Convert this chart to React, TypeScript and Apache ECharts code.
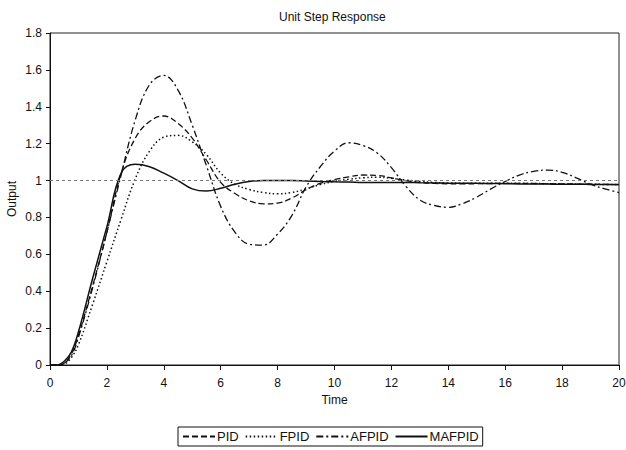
import React, { useEffect, useRef } from "react";
import * as echarts from "echarts";

const time = [0, 0.25, 0.5, 0.75, 1, 1.5, 2, 2.5, 3, 3.5, 4, 4.5, 5, 5.5, 6, 6.5, 7, 7.5, 8, 8.5, 9, 9.5, 10, 10.5, 11, 11.5, 12, 12.5, 13, 13.5, 14, 14.5, 15, 15.5, 16, 16.5, 17, 17.5, 18, 18.5, 19, 19.5, 20];

const pid = [0, 0, 0.01, 0.06, 0.16, 0.43, 0.72, 1.04, 1.23, 1.32, 1.35, 1.31, 1.23, 1.11, 0.99, 0.93, 0.89, 0.874, 0.878, 0.905, 0.95, 0.985, 1.005, 1.02, 1.03, 1.028, 1.015, 1.0, 0.99, 0.985, 0.982, 0.982, 0.983, 0.984, 0.985, 0.985, 0.984, 0.983, 0.982, 0.981, 0.98, 0.979, 0.978];

const fpid = [0, 0, 0.005, 0.04, 0.11, 0.33, 0.56, 0.79, 1.01, 1.16, 1.235, 1.245, 1.21, 1.14, 1.04, 0.98, 0.952, 0.935, 0.928, 0.935, 0.955, 0.978, 0.995, 1.007, 1.015, 1.018, 1.012, 1.003, 0.995, 0.99, 0.987, 0.986, 0.986, 0.986, 0.986, 0.985, 0.984, 0.983, 0.982, 0.981, 0.98, 0.979, 0.978];

const afpid = [0, 0, 0.01, 0.05, 0.15, 0.42, 0.72, 1.03, 1.33, 1.52, 1.57, 1.49, 1.3, 1.08, 0.86, 0.72, 0.655, 0.65, 0.71, 0.81, 0.965, 1.075, 1.16, 1.205, 1.19, 1.15, 1.07, 0.97, 0.895, 0.865, 0.855, 0.875, 0.91, 0.955, 0.995, 1.03, 1.05, 1.057, 1.045, 1.015, 0.98, 0.955, 0.935];

const mafpid = [0, 0, 0.02, 0.07, 0.18, 0.47, 0.75, 1.04, 1.088, 1.075, 1.04, 1.0, 0.955, 0.943, 0.958, 0.98, 0.995, 1.0, 1.0, 1.0, 0.998, 0.995, 0.993, 0.992, 0.99, 0.99, 0.99, 0.99, 0.988, 0.987, 0.986, 0.985, 0.985, 0.984, 0.983, 0.982, 0.982, 0.981, 0.98, 0.98, 0.979, 0.978, 0.978];

const seriesNames = ["PID", "FPID", "AFPID", "MAFPID"];
const referenceLevel = 1;

const FONT = "'Liberation Sans', Arial, sans-serif";

export default function App() {
  const ref = useRef<HTMLDivElement>(null);

  useEffect(() => {
    if (!ref.current) return;
    const chart = echarts.init(ref.current, undefined, { renderer: "svg" });
    const pair = (ys: number[]) => time.map((t, i) => [t, ys[i]]);
    const mk = (name: string, ys: number[], type: any, width: number) => ({
      name,
      type: "line",
      data: pair(ys),
      smooth: 0.4,
      symbol: "none",
      lineStyle: { color: "#111", width, type },
      itemStyle: { color: "#111" },
      z: 3,
    });
    const s0: any = mk(seriesNames[0], pid, [6, 3], 1.3);
    const s1: any = mk(seriesNames[1], fpid, [1.5, 2.5], 1.5);
    const s2: any = mk(seriesNames[2], afpid, [7, 3, 2, 3], 1.3);
    const s3: any = mk(seriesNames[3], mafpid, "solid", 1.5);
    s3.markLine = {
      silent: true,
      symbol: "none",
      label: { show: false },
      lineStyle: { color: "#777", type: [3, 3], width: 1 },
      data: [{ yAxis: referenceLevel }],
    };
    chart.setOption({
      animation: false,
      backgroundColor: "#fff",
      textStyle: { fontFamily: FONT },
      title: {
        text: "Unit Step Response",
        left: 274,
        top: 6,
        textStyle: { fontSize: 12, fontWeight: "normal", color: "#111", fontFamily: FONT },
      },
      grid: {
        left: 50,
        right: 7,
        top: 33,
        bottom: 85,
        containLabel: false,
        outerBoundsMode: "none",
        show: true,
        borderColor: "#222",
        borderWidth: 1,
      },
      legend: {
        data: seriesNames,
        left: 178,
        top: 427,
        padding: [3, 4, 3, 4],
        borderColor: "#111",
        borderWidth: 1,
        itemWidth: 32,
        itemHeight: 12,
        itemGap: 6,
        itemStyle: { opacity: 0 },
        textStyle: { fontSize: 13, color: "#111", fontFamily: FONT, padding: [0, 0, 0, -3] },
      },
      xAxis: {
        type: "value",
        min: 0,
        max: 20,
        interval: 2,
        name: "Time",
        nameLocation: "middle",
        nameGap: 28,
        nameTextStyle: { fontSize: 12, color: "#111", fontFamily: FONT },
        axisLine: { show: true, lineStyle: { color: "#111", width: 1 } },
        axisTick: { show: true, length: 5, lineStyle: { color: "#111" } },
        axisLabel: { fontSize: 12, color: "#111", margin: 12, fontFamily: FONT },
        splitLine: { show: false },
      },
      yAxis: {
        type: "value",
        min: 0,
        max: 1.8,
        interval: 0.2,
        name: "Output",
        nameLocation: "middle",
        nameGap: 32,
        nameMoveOverlap: false,
        nameTextStyle: { fontSize: 12, color: "#111", fontFamily: FONT },
        axisLine: { show: true, lineStyle: { color: "#111", width: 1 } },
        axisTick: { show: true, length: 4, lineStyle: { color: "#111" } },
        axisLabel: { fontSize: 12, color: "#111", margin: 8, fontFamily: FONT },
        splitLine: { show: false },
      },
      series: [s0, s1, s2, s3],
    });
    return () => chart.dispose();
  }, []);

  return <div ref={ref} style={{ width: 626, height: 450, position: "absolute", left: 0, top: 0 }} />;
}
